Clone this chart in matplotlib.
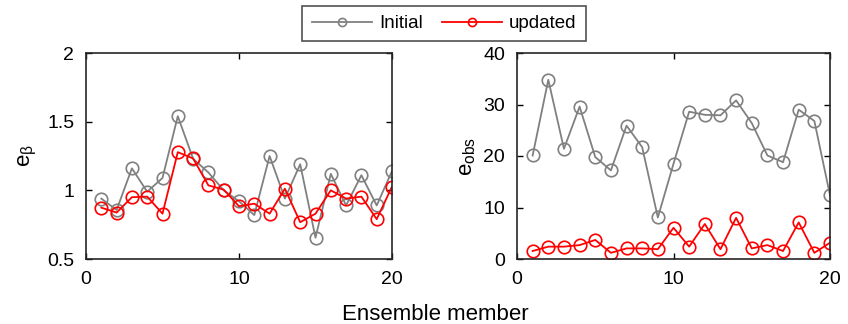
import matplotlib
matplotlib.use('Agg')
import matplotlib.pyplot as plt

members = list(range(1, 21))

beta_initial = [0.94, 0.857, 1.16, 0.99, 1.09, 1.54, 1.23, 1.13, 1.0, 0.92,
                0.82, 1.25, 0.94, 1.19, 0.655, 1.12, 0.89, 1.11, 0.89, 1.14]
beta_updated = [0.874, 0.838, 0.95, 0.954, 0.83, 1.278, 1.232, 1.036, 1.005, 0.884,
                0.903, 0.83, 1.012, 0.768, 0.83, 1.0, 0.94, 0.954, 0.79, 1.027]

obs_initial = [20.1, 34.8, 21.4, 29.6, 19.8, 17.2, 25.9, 21.7, 8.06, 18.5,
               28.6, 28.0, 27.9, 30.8, 26.4, 20.1, 18.8, 29.0, 26.8, 12.4]
obs_updated = [1.55, 2.4, 2.4, 2.7, 3.7, 1.2, 2.06, 2.06, 1.9, 6.06,
               2.4, 6.8, 1.9, 8.0, 2.06, 2.7, 1.55, 7.1, 1.2, 3.16]

plt.rcParams['font.family'] = ['Liberation Sans', 'DejaVu Sans']
plt.rcParams['mathtext.fontset'] = 'custom'
plt.rcParams['mathtext.rm'] = 'Liberation Sans'
plt.rcParams['mathtext.it'] = 'Liberation Sans'
fs = 14
gray = '#808080'

fig = plt.figure(figsize=(8.48, 3.24), dpi=100)
ax1 = fig.add_axes([86/848, 65/324, 306/848, 206/324])
ax2 = fig.add_axes([517/848, 65/324, 313/848, 206/324])

style = dict(marker='o', markerfacecolor='none', markersize=9, linewidth=1.3, markeredgewidth=1.2)

l1, = ax1.plot(members, beta_initial, color=gray, **style)
l2, = ax1.plot(members, beta_updated, color='red', **style)
ax2.plot(members, obs_initial, color=gray, **style)
ax2.plot(members, obs_updated, color='red', **style)

ax1.set_xlim(0, 20)
ax1.set_ylim(0.5, 2)
ax1.set_xticks([0, 10, 20])
ax1.set_yticks([0.5, 1, 1.5, 2])
ax1.set_yticklabels(['0.5', '1', '1.5', '2'])
ax1.set_ylabel(r'e$_\beta$', fontsize=16, labelpad=6)

ax2.set_xlim(0, 20)
ax2.set_ylim(0, 40)
ax2.set_xticks([0, 10, 20])
ax2.set_yticks([0, 10, 20, 30, 40])
ax2.set_ylabel(r'e$_{\rm obs}$', fontsize=16, labelpad=4)

for ax in (ax1, ax2):
    ax.tick_params(direction='in', top=True, right=True, labelsize=fs, length=4, width=1)
    ax.tick_params(axis='y', pad=8.5)
    ax.tick_params(axis='x', pad=9)
    for sp in ax.spines.values():
        sp.set_linewidth(1.2)
        sp.set_color('#262626')

fig.text(435/848, 1 - 320/324, 'Ensemble member', ha='center', va='baseline', fontsize=16)

leg = fig.legend([l1, l2], ['Initial', 'updated'], loc='center', bbox_to_anchor=(444/848, 1 - 23.5/324),
                 ncol=2, fontsize=13.5, frameon=True, fancybox=False, edgecolor='#262626',
                 handlelength=3.25, handletextpad=0.35, markerscale=0.65, columnspacing=1.0,
                 borderpad=0.5)
leg.get_frame().set_linewidth(1.2)

fig.savefig('out.png', dpi=100)
